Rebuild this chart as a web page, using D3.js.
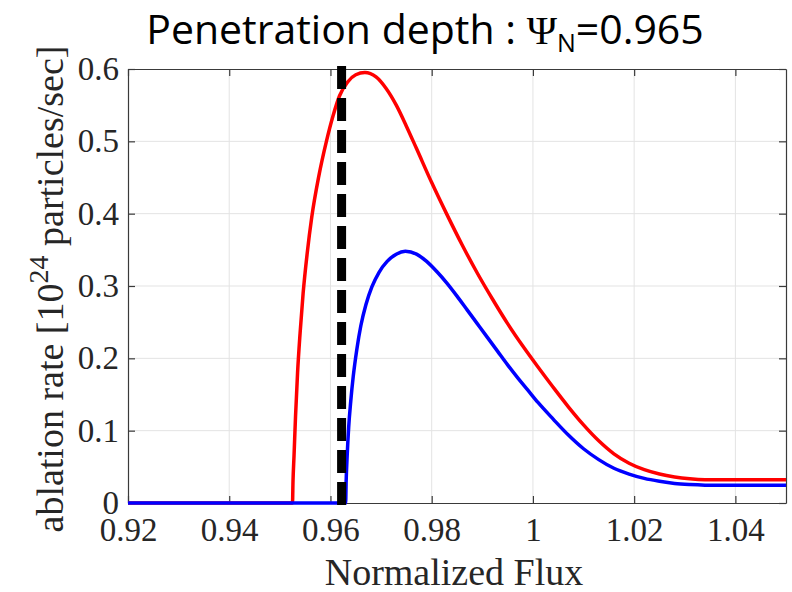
<!DOCTYPE html>
<html lang="en">
<head>
  <meta charset="UTF-8">
  <title>Penetration depth</title>
  <script src="https://d3js.org/d3.v7.min.js"></script>
  <style>
    body {
      margin: 0;
      padding: 0;
      background: #fff;
    }
    .tick text {
      font-family: "Liberation Serif", "Times New Roman", serif;
    }
  </style>
</head>
<body>
  <div id="chart"></div>
  <script>
    // data (x = normalized flux, y = ablation rate)
    const redFlux = [0.92, 0.9525, 0.9526, 0.9528, 0.9531, 0.9535, 0.9540, 0.9546, 0.9554, 0.9563,
      0.9577, 0.9592, 0.9605, 0.9618, 0.9634, 0.9650, 0.9668, 0.9690, 0.9710, 0.9730,
      0.9750, 0.9770, 0.9800, 0.9830, 0.9860, 0.9890, 0.9920, 0.9950, 0.9980, 1.0010,
      1.0040, 1.0070, 1.0100, 1.0130, 1.0160, 1.0190, 1.0220, 1.0250, 1.0280, 1.0310,
      1.0340, 1.0370, 1.05];
    const redRate = [0, 0, 0.03, 0.065, 0.12, 0.18, 0.235, 0.29, 0.345, 0.395,
      0.452, 0.500, 0.535, 0.563, 0.582, 0.592, 0.595, 0.589, 0.573, 0.550,
      0.521, 0.490, 0.443, 0.399, 0.357, 0.318, 0.282, 0.248, 0.217, 0.188,
      0.160, 0.133, 0.108, 0.086, 0.068, 0.055, 0.046, 0.040, 0.036, 0.0335,
      0.0322, 0.032, 0.032];

    const blueFlux = [0.92, 0.9630, 0.9631, 0.9633, 0.9636, 0.9640, 0.9645, 0.9652, 0.9660, 0.9670,
      0.9682, 0.9696, 0.9712, 0.9730, 0.9748, 0.9770, 0.9790, 0.9810, 0.9830, 0.9850,
      0.9870, 0.9890, 0.9910, 0.9930, 0.9950, 0.9970, 0.9990, 1.0010, 1.0040, 1.0070,
      1.0100, 1.0130, 1.0160, 1.0190, 1.0220, 1.0250, 1.0280, 1.0310, 1.0340, 1.0370,
      1.05];
    const blueRate = [0, 0, 0.03, 0.065, 0.105, 0.14, 0.175, 0.212, 0.245, 0.274,
      0.299, 0.319, 0.334, 0.344, 0.348, 0.344, 0.334, 0.320, 0.304, 0.286,
      0.267, 0.248, 0.229, 0.210, 0.191, 0.173, 0.156, 0.139, 0.116, 0.094,
      0.075, 0.060, 0.048, 0.040, 0.034, 0.030, 0.027, 0.0255, 0.0247, 0.0245,
      0.0245];

    const dashFlux = 0.9622;

    const xTicks = [0.92, 0.94, 0.96, 0.98, 1, 1.02, 1.04];
    const yTicks = [0, 0.1, 0.2, 0.3, 0.4, 0.5, 0.6];

    const width = 792;
    const height = 592;
    const margin = {top: 69, right: 6, bottom: 89, left: 128};

    const svg = d3.select("#chart").append("svg")
      .attr("width", width)
      .attr("height", height);

    svg.append("rect")
      .attr("width", width)
      .attr("height", height)
      .attr("fill", "#fff");

    const x = d3.scaleLinear().domain([0.92, 1.05]).range([margin.left, width - margin.right]);
    const y = d3.scaleLinear().domain([0, 0.6]).range([height - margin.bottom, margin.top]);

    const x0 = x.range()[0], x1 = x.range()[1];
    const y0 = y.range()[0], y1 = y.range()[1];

    // grid
    svg.append("g")
      .selectAll("line")
      .data(xTicks.slice(1))
      .join("line")
      .attr("x1", d => x(d)).attr("x2", d => x(d))
      .attr("y1", y0).attr("y2", y1)
      .attr("stroke", "#e3e3e3")
      .attr("stroke-width", 1);

    svg.append("g")
      .selectAll("line")
      .data(yTicks.slice(1, -1))
      .join("line")
      .attr("x1", x0).attr("x2", x1)
      .attr("y1", d => y(d)).attr("y2", d => y(d))
      .attr("stroke", "#e3e3e3")
      .attr("stroke-width", 1);

    // axes, MATLAB style box with inward ticks
    const fmt = d => d3.format("")(d);
    const xAxis = d3.axisBottom(x).tickValues(xTicks).tickSizeInner(-7).tickSizeOuter(0).tickPadding(21).tickFormat(fmt);
    const yAxis = d3.axisLeft(y).tickValues(yTicks).tickSizeInner(-7).tickSizeOuter(0).tickPadding(19).tickFormat(fmt);

    const gx = svg.append("g").attr("transform", `translate(0,${y0})`).call(xAxis);
    const gy = svg.append("g").attr("transform", `translate(${x0},0)`).call(yAxis);
    const gxTop = svg.append("g").attr("transform", `translate(0,${y1})`)
      .call(d3.axisTop(x).tickValues(xTicks).tickSizeInner(-7).tickSizeOuter(0).tickFormat(""));
    const gyRight = svg.append("g").attr("transform", `translate(${x1},0)`)
      .call(d3.axisRight(y).tickValues(yTicks).tickSizeInner(-7).tickSizeOuter(0).tickFormat(""));

    [gx, gy, gxTop, gyRight].forEach(g => {
      g.select(".domain").attr("stroke", "#3a3a3a").attr("stroke-width", 1.2);
      g.selectAll(".tick line").attr("stroke", "#3a3a3a").attr("stroke-width", 1.2);
    });
    gx.selectAll(".tick text")
      .attr("font-size", 33)
      .attr("fill", "#262626")
      .attr("dy", "0.5em");
    gy.selectAll(".tick text")
      .attr("font-size", 33)
      .attr("fill", "#262626")
      .attr("dx", "0.3em");

    // curves
    const line = d3.line()
      .x(d => x(d[0]))
      .y(d => y(d[1]))
      .curve(d3.curveMonotoneX);

    const redData = redFlux.map((f, i) => [f, redRate[i]]);
    const blueData = blueFlux.map((f, i) => [f, blueRate[i]]);

    svg.append("path")
      .datum(redData)
      .attr("d", line)
      .attr("fill", "none")
      .attr("stroke", "#ff0000")
      .attr("stroke-width", 3.5);

    svg.append("path")
      .datum(blueData)
      .attr("d", line)
      .attr("fill", "none")
      .attr("stroke", "#0000ff")
      .attr("stroke-width", 3.5);

    // penetration depth marker
    svg.append("line")
      .attr("x1", x(dashFlux)).attr("x2", x(dashFlux))
      .attr("y1", y0 + 2).attr("y2", y1 - 4)
      .attr("stroke", "#000")
      .attr("stroke-width", 9)
      .attr("stroke-dasharray", "23,9");

    // labels
    svg.append("text")
      .attr("x", (x0 + x1) / 2 - 3)
      .attr("y", 585)
      .attr("text-anchor", "middle")
      .attr("font-family", "'Liberation Serif', 'Times New Roman', serif")
      .attr("font-size", 38)
      .attr("fill", "#262626")
      .text("Normalized Flux");

    const yl = svg.append("text")
      .attr("transform", "translate(63,289) rotate(-90)")
      .attr("text-anchor", "middle")
      .attr("font-family", "'Liberation Serif', 'Times New Roman', serif")
      .attr("font-size", 38)
      .attr("fill", "#262626");
    yl.append("tspan").text("ablation rate [10");
    yl.append("tspan").attr("dy", -15).attr("font-size", 28).text("24");
    yl.append("tspan").attr("dy", 15).text(" particles/sec]");

    const title = svg.append("text")
      .attr("x", 425)
      .attr("y", 44)
      .attr("text-anchor", "middle")
      .attr("font-family", "'Open Sans', 'Noto Sans', sans-serif")
      .attr("font-size", 41)
      .attr("fill", "#000");
    title.append("tspan").text("Penetration depth : ");
    title.append("tspan").attr("font-family", "'Liberation Serif', serif").text("Ψ");
    title.append("tspan").attr("font-size", 25).attr("dy", 8).text("N");
    title.append("tspan").attr("dy", -8).text("=0.965");
  </script>
</body>
</html>
